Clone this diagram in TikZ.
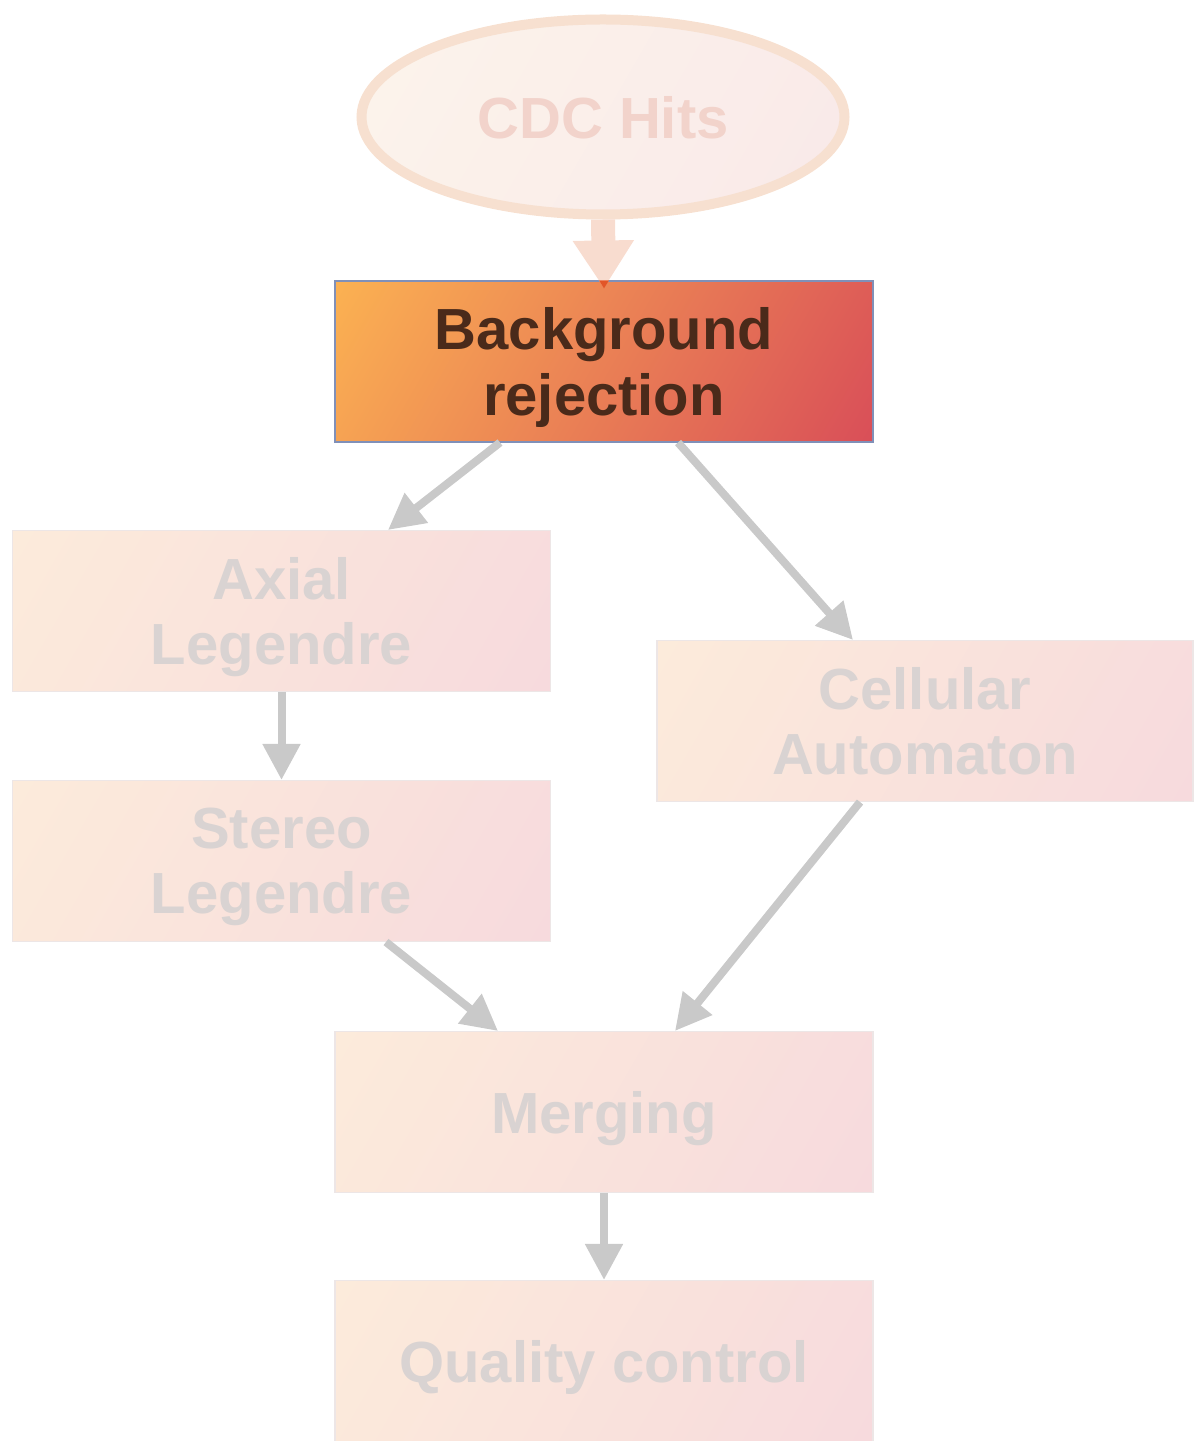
\documentclass[tikz,border=0pt]{standalone}
\usepackage{fontspec}
\setmainfont{Liberation Sans}
\usepackage{tikz}
\usetikzlibrary{shapes, arrows.meta, positioning, calc}

\definecolor{hitspeach}{RGB}{252, 244, 235}
\definecolor{hitspink}{RGB}{249, 233, 233}
\definecolor{hitsline}{RGB}{247, 224, 208}
\definecolor{hitstext}{RGB}{242, 211, 203}
\definecolor{feedpink}{RGB}{248, 220, 207}
\definecolor{feedtip}{RGB}{226, 86, 40}
\definecolor{rejorange}{RGB}{251, 177, 82}
\definecolor{rejred}{RGB}{217, 79, 88}
\definecolor{rejline}{RGB}{128, 144, 184}
\definecolor{rejtext}{RGB}{74, 42, 26}
\definecolor{fadepeach}{RGB}{252, 235, 219}
\definecolor{fadepink}{RGB}{247, 218, 221}
\definecolor{fadeline}{RGB}{237, 230, 230}
\definecolor{fadetext}{RGB}{217, 211, 210}
\definecolor{flowgray}{RGB}{201, 201, 201}

% corner-to-corner shadings
\pgfdeclareverticalshading{hitsshade}{100bp}{color(0bp)=(hitspink); color(16bp)=(hitspink); color(84bp)=(hitspeach); color(100bp)=(hitspeach)}
\pgfdeclareverticalshading{rejshade}{100bp}{color(0bp)=(rejred); color(16bp)=(rejred); color(84bp)=(rejorange); color(100bp)=(rejorange)}
\pgfdeclareverticalshading{fadeshade}{100bp}{color(0bp)=(fadepink); color(16bp)=(fadepink); color(84bp)=(fadepeach); color(100bp)=(fadepeach)}

\tikzset{
  stagefont/.style={font=\fontsize{33}{37}\selectfont\bfseries, align=center, inner sep=0pt, text depth=0pt},
  stagebox/.style={stagefont, rectangle, minimum width=10.76cm, minimum height=3.22cm, line width=0.6pt},
  fadebox/.style={stagebox, draw=fadeline, shading=fadeshade, shading angle=60, text=fadetext},
  activebox/.style={stagebox, draw=rejline, shading=rejshade, shading angle=60, text=rejtext},
  flow/.style={draw=flowgray, line width=0.16cm, -{Triangle[length=0.72cm, width=0.72cm]}},
  feed/.style={draw=feedpink, line width=0.48cm, -{Triangle[length=0.96cm, width=1.16cm]}},
}

\begin{document}
\begin{tikzpicture}
  \useasboundingbox (0,0) rectangle (23.86,-28.82);

  % Input hits
  \node[stagefont, ellipse, draw=hitsline, line width=0.2cm, shading=hitsshade, shading angle=60, text=hitstext, minimum width=9.66cm, minimum height=3.9cm] (hits) at (12.06, -2.34) {CDC Hits};

  % Stages
  \node[activebox] (bgrej) at (12.08, -7.23) {Background\\rejection};
  \node[fadebox] (axial) at (5.63, -12.22) {Axial\\Legendre};
  \node[fadebox] (stereo) at (5.63, -17.22) {Stereo\\Legendre};
  \node[fadebox, minimum width=10.72cm] (cellular) at (18.5, -14.42) {Cellular\\Automaton};
  \node[fadebox] (merging) at (12.08, -22.24) {Merging};
  \node[fadebox] (quality) at (12.08, -27.22) {Quality control};

  % Connections
  \draw[feed] (hits.south) -- ([yshift=-0.16cm]bgrej.north);
  \fill[feedtip] ([xshift=-0.1cm]bgrej.north) -- ([xshift=0.1cm]bgrej.north) -- ([yshift=-0.16cm]bgrej.north) -- cycle;
  \draw[flow] ([xshift=-2.08cm]bgrej.south) -- ([xshift=2.13cm]axial.north);
  \draw[flow] ([xshift=1.48cm]bgrej.south) -- ([xshift=-1.44cm]cellular.north);
  \draw[flow] (axial.south) -- (stereo.north);
  \draw[flow] ([xshift=2.09cm]stereo.south) -- ([xshift=-2.12cm]merging.north);
  \draw[flow] ([xshift=-1.3cm]cellular.south) -- ([xshift=1.42cm]merging.north);
  \draw[flow] (merging.south) -- (quality.north);
\end{tikzpicture}
\end{document}
